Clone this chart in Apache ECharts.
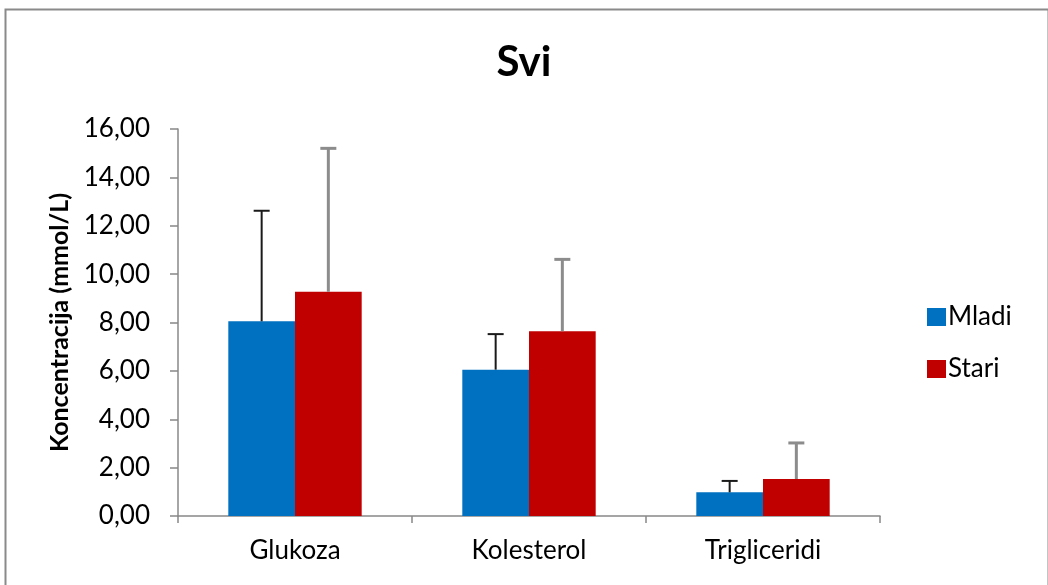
<!DOCTYPE html>
<html>
<head>
<meta charset="utf-8">
<script src="https://cdn.jsdelivr.net/npm/echarts@6/dist/echarts.min.js"></script>
<style>
html,body{margin:0;padding:0;background:#fff;}
#chart{width:1048px;height:585px;}
</style>
</head>
<body>
<div id="chart"></div>
<script>
var categories = ['Glukoza', 'Kolesterol', 'Trigliceridi'];
var seriesNames = ['Mladi', 'Stari'];
var mladi = [8.05, 6.05, 0.98];
var mladiSD = [4.57, 1.47, 0.47];
var stari = [9.27, 7.64, 1.53];
var stariSD = [5.93, 2.97, 1.49];
var yTicks = [0, 2, 4, 6, 8, 10, 12, 14, 16];

var FONT = 'Lato';
var chart = echarts.init(document.getElementById('chart'));

function errSeries(name, vals, sds, idx, color, width) {
  var data = vals.map(function (v, i) { return [i, v, v + sds[i]]; });
  return {
    type: 'custom',
    name: name + ' err',
    z: 10,
    silent: true,
    data: data,
    encode: { x: 0, y: [1, 2] },
    renderItem: function (params, api) {
      var ci = api.value(0);
      var lo = api.coord([ci, api.value(1)]);
      var hi = api.coord([ci, api.value(2)]);
      var band = api.size([1, 0])[0];
      var barW = band * (1 - 0.43) / 2;
      var x = lo[0] + (idx === 0 ? -barW / 2 : barW / 2);
      var cap = 8;
      var style = { stroke: color, lineWidth: width, fill: null };
      return {
        type: 'group',
        children: [
          { type: 'line', shape: { x1: x, y1: lo[1], x2: x, y2: hi[1] }, style: style },
          { type: 'line', shape: { x1: x - cap, y1: hi[1], x2: x + cap, y2: hi[1] }, style: style }
        ]
      };
    }
  };
}

var option = {
  animation: false,
  backgroundColor: '#fff',
  textStyle: { fontFamily: FONT },
  title: {
    text: 'Svi',
    left: 'center',
    top: 36,
    textStyle: { fontFamily: FONT, fontWeight: 'bold', fontSize: 42, color: '#000' }
  },
  legend: {
    orient: 'vertical',
    left: 922,
    top: 299,
    itemWidth: 19,
    itemHeight: 18,
    itemGap: 26,
    data: seriesNames,
    textStyle: { fontFamily: FONT, fontSize: 26, color: '#000', padding: [0, 0, 0, -3] },
    icon: 'rect'
  },
  grid: { left: 178, right: 168, top: 129, bottom: 69, containLabel: false },
  xAxis: {
    type: 'category',
    data: categories,
    axisLine: { lineStyle: { color: '#888', width: 1.5 } },
    axisTick: { show: true, length: 7, lineStyle: { color: '#888', width: 1.5 } },
    axisLabel: { margin: 22, fontFamily: FONT, fontSize: 26, color: '#000' }
  },
  yAxis: {
    type: 'value',
    min: 0,
    max: 16,
    interval: 2,
    name: 'Koncentracija (mmol/L)',
    nameLocation: 'middle',
    nameGap: 104,
    nameRotate: 90,
    nameTextStyle: { fontFamily: FONT, fontWeight: 'bold', fontSize: 25, color: '#000' },
    axisLine: { show: true, lineStyle: { color: '#888', width: 1.5 } },
    axisTick: { show: true, length: 8, lineStyle: { color: '#888', width: 1.5 } },
    splitLine: { show: false },
    axisLabel: {
      margin: 28,
      fontFamily: FONT,
      fontSize: 26,
      color: '#000',
      formatter: function (v) { return v.toFixed(2).replace('.', ','); }
    }
  },
  graphic: [{
    type: 'rect',
    left: 3, top: 7,
    shape: { width: 1043, height: 600 },
    style: { fill: null, stroke: '#8a8a8a', lineWidth: 2 },
    z: -1
  }],
  series: [
    {
      name: 'Mladi', type: 'bar', data: mladi,
      barGap: '0%', barCategoryGap: '43%',
      itemStyle: { color: '#0070C0' }
    },
    {
      name: 'Stari', type: 'bar', data: stari,
      barGap: '0%', barCategoryGap: '43%',
      itemStyle: { color: '#C00000' }
    },
    errSeries('Mladi', mladi, mladiSD, 0, '#1a1a1a', 2),
    errSeries('Stari', stari, stariSD, 1, '#8c8c8c', 3)
  ]
};
chart.setOption(option);
</script>
</body>
</html>
